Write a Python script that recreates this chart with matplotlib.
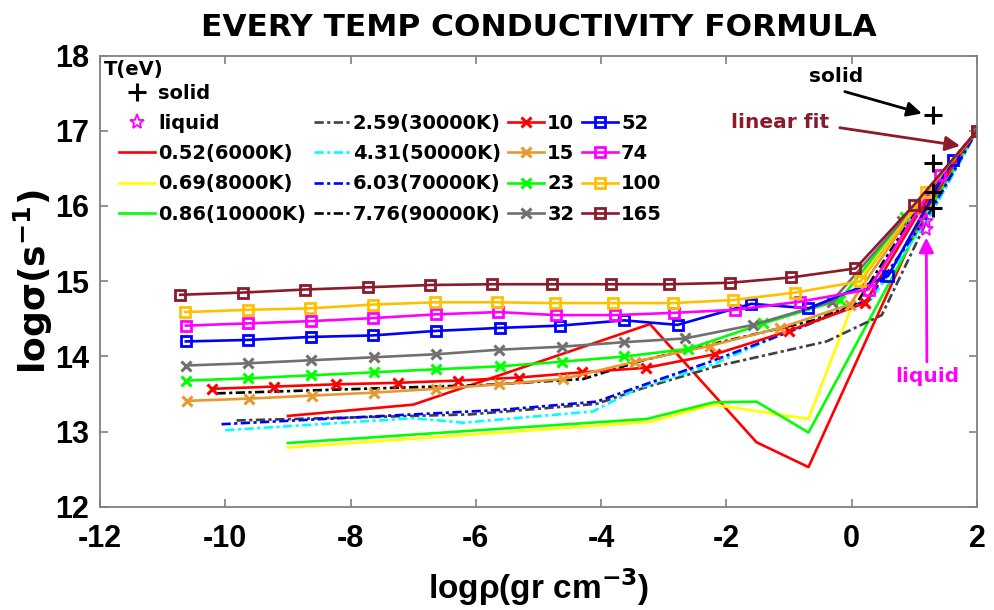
import matplotlib
matplotlib.use("Agg")
import matplotlib.pyplot as plt
from matplotlib.lines import Line2D

plt.rcParams['font.family'] = ['DejaVu Sans']
plt.rcParams['font.weight'] = 'bold'
plt.rcParams['axes.unicode_minus'] = False
plt.rcParams['mathtext.default'] = 'bf'

# ---- low-temperature curves (no markers) ----
x_052 = [-9.0, -7.0, -3.22, -1.52, -0.69, 1.15, 2.0]
y_052 = [13.21, 13.36, 14.43, 12.86, 12.53, 15.90, 17.0]

x_069 = [-9.0, -3.22, -2.21, -0.69, 0.2, 1.0, 2.0]
y_069 = [12.79, 13.13, 13.36, 13.17, 15.10, 15.95, 17.0]

x_086 = [-9.0, -3.27, -2.21, -1.52, -0.69, 1.1, 2.0]
y_086 = [12.85, 13.17, 13.39, 13.40, 12.99, 15.75, 17.0]

x_259 = [-9.82, -6.09, -4.07, -3.33, -2.16, -0.4, 0.48, 1.2, 2.0]
y_259 = [13.15, 13.23, 13.37, 13.58, 13.87, 14.20, 14.55, 15.80, 17.0]

x_431 = [-10.0, -7.0, -6.2, -4.13, -3.4, -2.2, -0.77, 0.3, 1.2, 2.0]
y_431 = [13.02, 13.18, 13.12, 13.27, 13.58, 13.90, 14.42, 14.75, 15.80, 17.0]

x_603 = [-10.06, -5.6, -4.07, -3.33, -2.26, -0.77, 0.25, 1.2, 2.0]
y_603 = [13.10, 13.29, 13.40, 13.62, 13.93, 14.40, 14.75, 15.85, 17.0]

x_776 = [-10.14, -5.9, -4.29, -3.33, -1.94, -0.61, 0.08, 1.0, 2.0]
y_776 = [13.51, 13.62, 13.70, 13.95, 14.22, 14.48, 14.71, 15.90, 17.0]

# ---- high-temperature curves (with markers) ----
x_10 = [-10.22, -9.22, -8.23, -7.25, -6.28, -5.31, -4.30, -3.28, -2.18, -1.0, 0.21, 1.1, 2.0]
y_10 = [13.57, 13.60, 13.63, 13.65, 13.68, 13.72, 13.79, 13.85, 14.03, 14.34, 14.71, 15.95, 17.0]

x_15 = [-10.61, -9.62, -8.62, -7.63, -6.64, -5.63, -4.61, -3.46, -2.27, -1.14, -0.03, 1.0, 2.0]
y_15 = [13.41, 13.44, 13.48, 13.52, 13.57, 13.63, 13.70, 13.93, 14.14, 14.38, 14.69, 15.95, 17.0]

x_23 = [-10.63, -9.63, -8.63, -7.62, -6.63, -5.61, -4.63, -3.63, -2.61, -1.41, -0.19, 0.85, 2.0]
y_23 = [13.68, 13.71, 13.75, 13.79, 13.83, 13.87, 13.93, 14.00, 14.10, 14.44, 14.75, 15.85, 17.0]

x_32 = [-10.63, -9.63, -8.63, -7.62, -6.63, -5.63, -4.63, -3.63, -2.66, -1.57, -0.32, 0.8, 2.0]
y_32 = [13.88, 13.91, 13.95, 13.99, 14.03, 14.09, 14.13, 14.19, 14.24, 14.42, 14.73, 15.80, 17.0]

x_52 = [-10.63, -9.63, -8.63, -7.64, -6.64, -5.61, -4.66, -3.63, -2.78, -1.60, -0.69, 0.58, 1.61, 2.0]
y_52 = [14.20, 14.22, 14.26, 14.28, 14.34, 14.38, 14.41, 14.48, 14.42, 14.70, 14.64, 15.07, 16.61, 17.0]

x_74 = [-10.63, -9.63, -8.63, -7.64, -6.64, -5.64, -4.72, -3.78, -2.84, -1.86, -0.82, 0.27, 1.41, 2.0]
y_74 = [14.41, 14.44, 14.47, 14.51, 14.56, 14.59, 14.55, 14.55, 14.58, 14.62, 14.73, 14.89, 16.41, 17.0]

x_100 = [-10.64, -9.64, -8.65, -7.64, -6.65, -5.67, -4.74, -3.81, -2.86, -1.90, -0.90, 0.14, 1.19, 2.0]
y_100 = [14.59, 14.62, 14.64, 14.69, 14.72, 14.72, 14.71, 14.71, 14.71, 14.75, 14.85, 15.00, 16.19, 17.0]

x_165 = [-10.72, -9.71, -8.73, -7.72, -6.73, -5.75, -4.79, -3.84, -2.91, -1.94, -0.97, 0.06, 0.99, 2.0]
y_165 = [14.82, 14.85, 14.89, 14.92, 14.95, 14.96, 14.96, 14.96, 14.96, 14.98, 15.05, 15.17, 16.01, 17.0]

# ---- solid / liquid reference points ----
x_solid = [1.30, 1.30, 1.30, 1.30]
y_solid = [17.21, 16.57, 16.19, 15.97]
x_liquid = [1.18, 1.18]
y_liquid = [15.80, 15.70]

xticks = [-12, -10, -8, -6, -4, -2, 0, 2]
yticks = [12, 13, 14, 15, 16, 17, 18]

fig = plt.figure(figsize=(9.94, 6.10), dpi=100)
ax = fig.add_axes([0.1006, 0.1689, 0.8823, 0.7401])

LW = 1.9
DD = (0, (3.5, 1.3, 1.2, 1.3))

h = {}
h['0.52(6000K)'] = ax.plot(x_052, y_052, color='#FF0000', lw=LW)[0]
h['0.69(8000K)'] = ax.plot(x_069, y_069, color='#FFFF00', lw=LW)[0]
h['0.86(10000K)'] = ax.plot(x_086, y_086, color='#00FF00', lw=LW)[0]
h['2.59(30000K)'] = ax.plot(x_259, y_259, color='#404040', lw=LW, ls=DD)[0]
h['4.31(50000K)'] = ax.plot(x_431, y_431, color='#00FFFF', lw=LW, ls=DD)[0]
h['6.03(70000K)'] = ax.plot(x_603, y_603, color='#0000FF', lw=LW, ls=DD)[0]
h['7.76(90000K)'] = ax.plot(x_776, y_776, color='#000000', lw=LW, ls=DD)[0]

xkw = dict(marker='x', ms=7, mew=2.2, lw=LW)
h['10'] = ax.plot(x_10, y_10, color='#FF0000', **xkw)[0]
h['15'] = ax.plot(x_15, y_15, color='#E6992E', **xkw)[0]
h['23'] = ax.plot(x_23, y_23, color='#00FF00', **xkw)[0]
h['32'] = ax.plot(x_32, y_32, color='#707070', **xkw)[0]

skw = dict(marker='s', ms=7, mew=2.0, mfc='none', lw=LW)
h['52'] = ax.plot(x_52, y_52, color='#0000FF', **skw)[0]
h['74'] = ax.plot(x_74, y_74, color='#FF00FF', **skw)[0]
h['100'] = ax.plot(x_100, y_100, color='#FFC000', **skw)[0]
h['165'] = ax.plot(x_165, y_165, color='#8B1A2A', **skw)[0]

h['solid'] = ax.plot(x_solid, y_solid, ls='none', marker='+', ms=13, mew=2.2, color='black')[0]
h['liquid'] = ax.plot(x_liquid, y_liquid, ls='none', marker='*', ms=11, mew=1.3,
                      mfc='none', mec='#FF00FF')[0]

ax.set_xlim(-12, 2)
ax.set_ylim(12, 18)
ax.set_xticks(xticks)
ax.set_yticks(yticks)
ax.tick_params(direction='in', length=6, width=1.2, color='#808080',
               top=True, right=True)
ax.tick_params(axis='x', pad=12)
ax.tick_params(axis='y', pad=8)
for lab in ax.get_xticklabels() + ax.get_yticklabels():
    lab.set_family('Liberation Sans')
    lab.set_fontweight('bold')
    lab.set_fontsize(22)
for sp in ax.spines.values():
    sp.set_color('#808080')
    sp.set_linewidth(1.3)

ax.set_title('EVERY TEMP CONDUCTIVITY FORMULA', fontsize=22.5, fontweight='bold', pad=14)
ax.set_xlabel('logρ(gr cm$^{-3}$)', fontsize=24, fontweight='bold',
              family='Liberation Sans', labelpad=9)
ax.set_ylabel('logσ(s$^{-1}$)', fontsize=26, fontweight='bold', labelpad=0)

# legend laid out in four columns with the shorter columns padded at the top
blank = Line2D([], [], ls='none')
order = ['solid', 'liquid', '0.52(6000K)', '0.69(8000K)', '0.86(10000K)',
         None, '2.59(30000K)', '4.31(50000K)', '6.03(70000K)', '7.76(90000K)',
         None, '10', '15', '23', '32',
         None, '52', '74', '100', '165']
handles = [h[k] if k else blank for k in order]
labels = [k if k else '' for k in order]
ax.legend(handles, labels, ncol=4, loc='upper left', bbox_to_anchor=(0.013, 0.955),
          frameon=False, prop={'weight': 'bold', 'size': 14, 'family': 'DejaVu Sans'},
          handlelength=1.85, handletextpad=0.15, columnspacing=0.4,
          labelspacing=0.58, borderaxespad=0.0)
ax.text(0.004, 0.99, 'T(eV)', transform=ax.transAxes, fontsize=14, fontweight='bold',
        ha='left', va='top')

# annotations: text and arrow drawn separately
ax.text(-0.25, 17.72, 'solid', fontsize=14.5, fontweight='bold', color='black',
        ha='center', va='center')
ax.annotate('', xy=(1.12, 17.23), xytext=(-0.11, 17.52),
            arrowprops=dict(arrowstyle='-|>', color='black', lw=2, mutation_scale=22,
                            shrinkA=0, shrinkB=0))
ax.text(-1.14, 17.11, 'linear fit', fontsize=14.5, fontweight='bold', color='#8B1A2A',
        ha='center', va='center')
ax.annotate('', xy=(1.73, 16.80), xytext=(-0.19, 17.04),
            arrowprops=dict(arrowstyle='-|>', color='#8B1A2A', lw=2, mutation_scale=22,
                            shrinkA=0, shrinkB=0))
ax.text(1.20, 13.73, 'liquid', fontsize=14.5, fontweight='bold', color='#FF00FF',
        ha='center', va='center')
ax.annotate('', xy=(1.19, 15.58), xytext=(1.20, 13.93),
            arrowprops=dict(arrowstyle='-|>', color='#FF00FF', lw=2, mutation_scale=22,
                            shrinkA=0, shrinkB=0))

fig.savefig('out.png', dpi=100)
